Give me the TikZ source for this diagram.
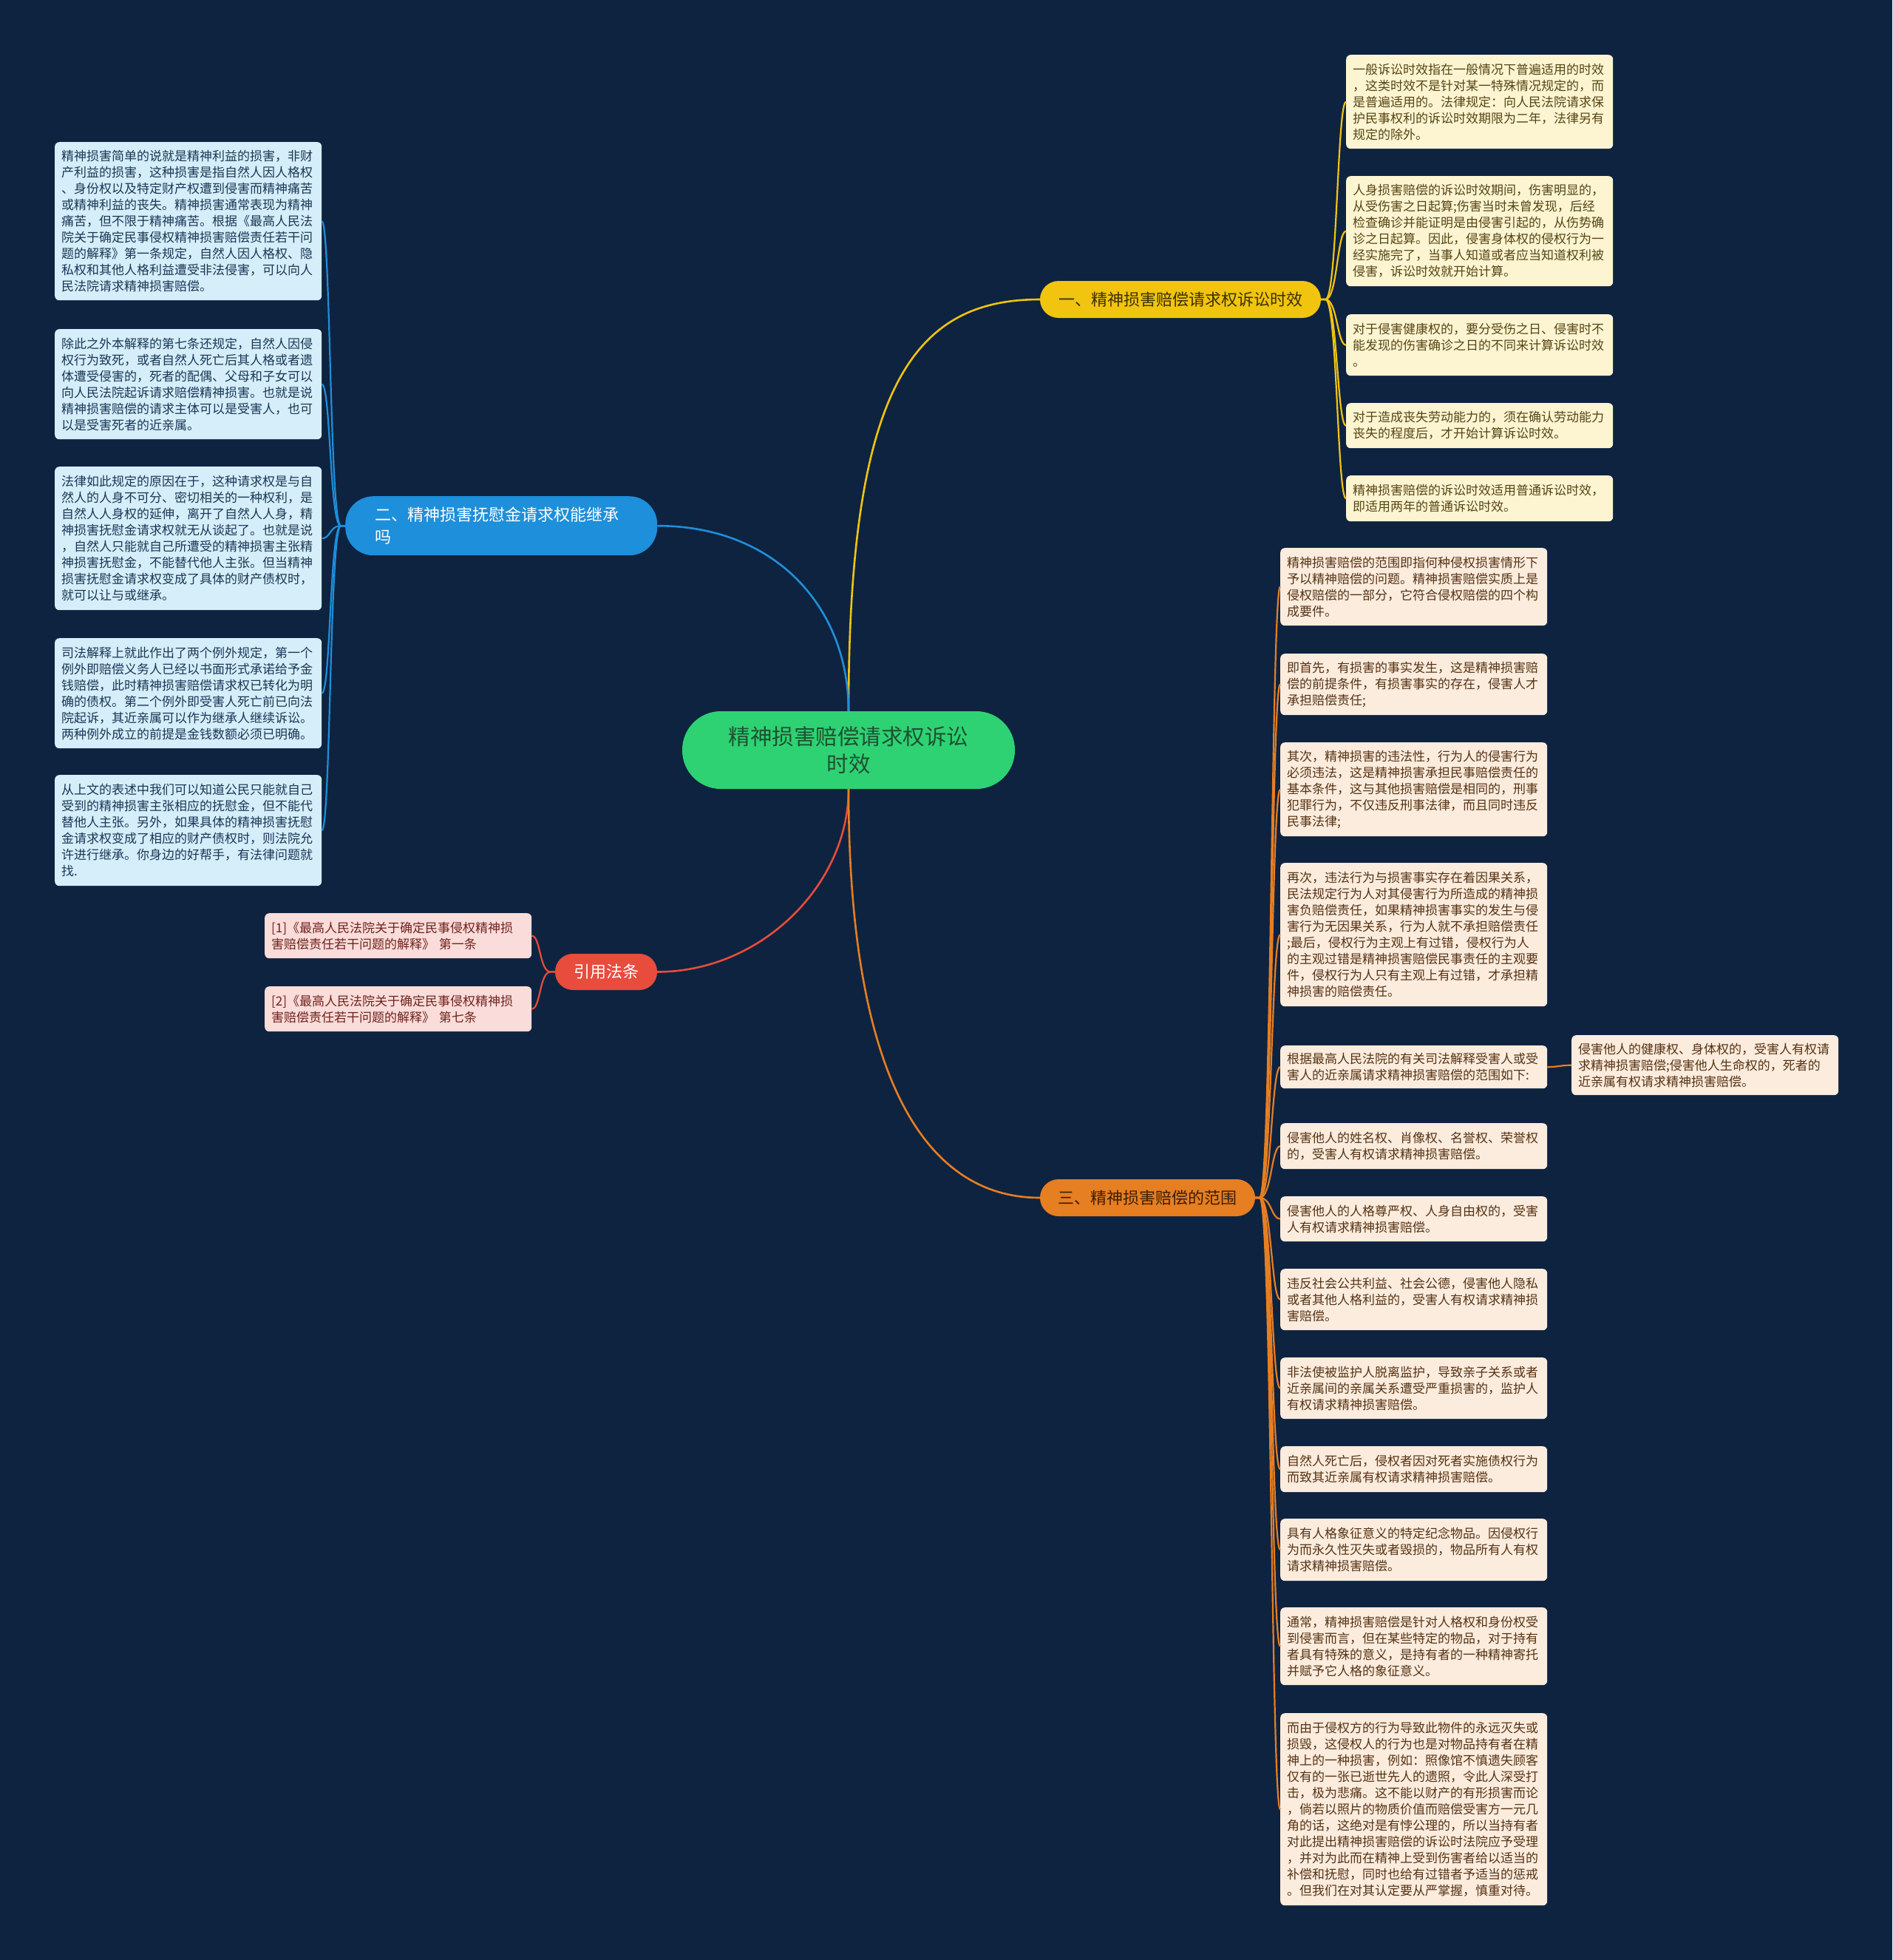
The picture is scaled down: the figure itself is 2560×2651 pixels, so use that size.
\documentclass[tikz,border=0pt]{standalone}
\usepackage{fontspec}
\setmainfont{Noto Sans CJK SC}
\usetikzlibrary{calc}
\definecolor{bgc}{RGB}{14,35,64}
\definecolor{cgreen}{RGB}{46,210,115}
\definecolor{cgreentx}{RGB}{30,80,50}
\definecolor{cyel}{RGB}{241,196,15}
\definecolor{cyeltx}{RGB}{60,48,5}
\definecolor{cblue}{RGB}{30,143,218}
\definecolor{cred}{RGB}{231,76,60}
\definecolor{corg}{RGB}{230,126,34}
\definecolor{corgtx}{RGB}{60,30,5}
\definecolor{ylf}{RGB}{253,245,210}
\definecolor{ylt}{RGB}{85,68,20}
\definecolor{olf}{RGB}{252,236,221}
\definecolor{olt}{RGB}{85,50,20}
\definecolor{blf}{RGB}{214,238,250}
\definecolor{blt}{RGB}{25,55,85}
\definecolor{rlf}{RGB}{250,220,218}
\definecolor{rlt}{RGB}{110,35,28}
\newcommand\lfsz{\fontsize{17pt}{22pt}\selectfont}
\newcommand\brsz{\fontsize{22pt}{30pt}\selectfont}
\begin{document}
\begin{tikzpicture}[x=1pt,y=-1pt,
  leafbase/.style={anchor=north west, rounded corners=6pt, inner xsep=9pt, inner ysep=0pt, text width=343pt, align=left, font=\lfsz},
  leafY/.style={leafbase, fill=ylf, text=ylt},
  leafO/.style={leafbase, fill=olf, text=olt},
  leafB/.style={leafbase, fill=blf, text=blt},
  leafR/.style={leafbase, fill=rlf, text=rlt},
  branch/.style={inner sep=0pt, font=\brsz, align=center},
  mainline/.style={line width=2.6pt},
  subline/.style={line width=2.2pt},
]
\fill[bgc] (0,0) rectangle (2560,2651);
\useasboundingbox (0,0) rectangle (2560,2651);

% central node
\node[fill=cgreen, text=cgreentx, minimum width=450pt, minimum height=105pt, rounded corners=52pt, inner sep=0pt, align=center, font=\fontsize{29.5pt}{37pt}\selectfont] (c) at (1148,1014.5) {精神损害赔偿请求权诉讼\\时效};

% branches
\node[branch, fill=cyel, text=cyeltx, minimum width=380pt, minimum height=50pt, rounded corners=25pt] (y) at (1597,405) {一、精神损害赔偿请求权诉讼时效};
\node[branch, anchor=north west, fill=cblue, text=white, minimum width=422pt, minimum height=80pt, rounded corners=38pt, inner xsep=40pt, text width=342pt, align=left] (b) at (467,671) {二、精神损害抚慰金请求权能继承\\吗};
\node[branch, fill=cred, text=white, minimum width=138pt, minimum height=49pt, rounded corners=24pt] (r) at (820,1314.5) {引用法条};
\node[branch, fill=corg, text=corgtx, minimum width=291pt, minimum height=50pt, rounded corners=25pt] (o) at (1552.5,1620) {三、精神损害赔偿的范围};

% main connectors
\draw[mainline, cyel] (c.north) .. controls +(0,-440) and +(-170,0) .. (y.west);
\draw[mainline, cblue] (c.north) .. controls +(0,-140) and +(160,0) .. (b.east);
\draw[mainline, cred] (c.south) .. controls +(0,130) and +(140,0) .. (r.east);
\draw[mainline, corg] (c.south) .. controls +(0,380) and +(-160,0) .. (o.west);

% yellow leaves
\node[leafY, minimum height=127pt] (y1) at (1821,74) {一般诉讼时效指在一般情况下普遍适用的时效\\，这类时效不是针对某一特殊情况规定的，而\\是普遍适用的。法律规定：向人民法院请求保\\护民事权利的诉讼时效期限为二年，法律另有\\规定的除外。};
\node[leafY, minimum height=149pt] (y2) at (1821,238) {人身损害赔偿的诉讼时效期间，伤害明显的，\\从受伤害之日起算;伤害当时未曾发现，后经\\检查确诊并能证明是由侵害引起的，从伤势确\\诊之日起算。因此，侵害身体权的侵权行为一\\经实施完了，当事人知道或者应当知道权利被\\侵害，诉讼时效就开始计算。};
\node[leafY, minimum height=83pt] (y3) at (1821,425) {对于侵害健康权的，要分受伤之日、侵害时不\\能发现的伤害确诊之日的不同来计算诉讼时效\\。};
\node[leafY, minimum height=61pt] (y4) at (1821,545) {对于造成丧失劳动能力的，须在确认劳动能力\\丧失的程度后，才开始计算诉讼时效。};
\node[leafY, minimum height=62pt] (y5) at (1821,643) {精神损害赔偿的诉讼时效适用普通诉讼时效，\\即适用两年的普通诉讼时效。};
\foreach \n in {y1,y2,y3,y4,y5}
  \draw[subline, cyel] (y.east) -- ++(6,0) .. controls +(16,0) and +(-12,0) .. (\n.west);

% blue leaves
\node[leafB, minimum height=214pt] (b1) at (74,192) {精神损害简单的说就是精神利益的损害，非财\\产利益的损害，这种损害是指自然人因人格权\\、身份权以及特定财产权遭到侵害而精神痛苦\\或精神利益的丧失。精神损害通常表现为精神\\痛苦，但不限于精神痛苦。根据《最高人民法\\院关于确定民事侵权精神损害赔偿责任若干问\\题的解释》第一条规定，自然人因人格权、隐\\私权和其他人格利益遭受非法侵害，可以向人\\民法院请求精神损害赔偿。};
\node[leafB, minimum height=149pt] (b2) at (74,445) {除此之外本解释的第七条还规定，自然人因侵\\权行为致死，或者自然人死亡后其人格或者遗\\体遭受侵害的，死者的配偶、父母和子女可以\\向人民法院起诉请求赔偿精神损害。也就是说\\精神损害赔偿的请求主体可以是受害人，也可\\以是受害死者的近亲属。};
\node[leafB, minimum height=194pt] (b3) at (74,631) {法律如此规定的原因在于，这种请求权是与自\\然人的人身不可分、密切相关的一种权利，是\\自然人人身权的延伸，离开了自然人人身，精\\神损害抚慰金请求权就无从谈起了。也就是说\\，自然人只能就自己所遭受的精神损害主张精\\神损害抚慰金，不能替代他人主张。但当精神\\损害抚慰金请求权变成了具体的财产债权时，\\就可以让与或继承。};
\node[leafB, minimum height=149pt] (b4) at (74,863) {司法解释上就此作出了两个例外规定，第一个\\例外即赔偿义务人已经以书面形式承诺给予金\\钱赔偿，此时精神损害赔偿请求权已转化为明\\确的债权。第二个例外即受害人死亡前已向法\\院起诉，其近亲属可以作为继承人继续诉讼。\\两种例外成立的前提是金钱数额必须已明确。};
\node[leafB, minimum height=150pt] (b5) at (74,1048) {从上文的表述中我们可以知道公民只能就自己\\受到的精神损害主张相应的抚慰金，但不能代\\替他人主张。另外，如果具体的精神损害抚慰\\金请求权变成了相应的财产债权时，则法院允\\许进行继承。你身边的好帮手，有法律问题就\\找.};
\foreach \n in {b1,b2,b3,b4,b5}
  \draw[subline, cblue] (b.west) -- ++(-6,0) .. controls +(-15,0) and +(12,0) .. (\n.east);

% red leaves
\node[leafR, minimum height=61pt] (r1) at (358,1235) {[1]《最高人民法院关于确定民事侵权精神损\\害赔偿责任若干问题的解释》 第一条};
\node[leafR, minimum height=61pt] (r2) at (358,1334) {[2]《最高人民法院关于确定民事侵权精神损\\害赔偿责任若干问题的解释》 第七条};
\foreach \n in {r1,r2}
  \draw[subline, cred] (r.west) -- ++(-6,0) .. controls +(-15,0) and +(12,0) .. (\n.east);

% orange leaves
\node[leafO, minimum height=105pt] (o1) at (1732,741) {精神损害赔偿的范围即指何种侵权损害情形下\\予以精神赔偿的问题。精神损害赔偿实质上是\\侵权赔偿的一部分，它符合侵权赔偿的四个构\\成要件。};
\node[leafO, minimum height=83pt] (o2) at (1732,884) {即首先，有损害的事实发生，这是精神损害赔\\偿的前提条件，有损害事实的存在，侵害人才\\承担赔偿责任;};
\node[leafO, minimum height=127pt] (o3) at (1732,1004) {其次，精神损害的违法性，行为人的侵害行为\\必须违法，这是精神损害承担民事赔偿责任的\\基本条件，这与其他损害赔偿是相同的，刑事\\犯罪行为，不仅违反刑事法律，而且同时违反\\民事法律;};
\node[leafO, minimum height=194pt] (o4) at (1732,1167) {再次，违法行为与损害事实存在着因果关系，\\民法规定行为人对其侵害行为所造成的精神损\\害负赔偿责任，如果精神损害事实的发生与侵\\害行为无因果关系，行为人就不承担赔偿责任\\;最后，侵权行为主观上有过错，侵权行为人\\的主观过错是精神损害赔偿民事责任的主观要\\件，侵权行为人只有主观上有过错，才承担精\\神损害的赔偿责任。};
\node[leafO, minimum height=58pt] (o5) at (1732,1414) {根据最高人民法院的有关司法解释受害人或受\\害人的近亲属请求精神损害赔偿的范围如下:};
\node[leafO, minimum height=81pt] (o5c) at (2126,1400) {侵害他人的健康权、身体权的，受害人有权请\\求精神损害赔偿;侵害他人生命权的，死者的\\近亲属有权请求精神损害赔偿。};
\node[leafO, minimum height=62pt] (o6) at (1732,1519) {侵害他人的姓名权、肖像权、名誉权、荣誉权\\的，受害人有权请求精神损害赔偿。};
\node[leafO, minimum height=61pt] (o7) at (1732,1618) {侵害他人的人格尊严权、人身自由权的，受害\\人有权请求精神损害赔偿。};
\node[leafO, minimum height=83pt] (o8) at (1732,1716) {违反社会公共利益、社会公德，侵害他人隐私\\或者其他人格利益的，受害人有权请求精神损\\害赔偿。};
\node[leafO, minimum height=83pt] (o9) at (1732,1836) {非法使被监护人脱离监护，导致亲子关系或者\\近亲属间的亲属关系遭受严重损害的，监护人\\有权请求精神损害赔偿。};
\node[leafO, minimum height=62pt] (o10) at (1732,1956) {自然人死亡后，侵权者因对死者实施债权行为\\而致其近亲属有权请求精神损害赔偿。};
\node[leafO, minimum height=84pt] (o11) at (1732,2054) {具有人格象征意义的特定纪念物品。因侵权行\\为而永久性灭失或者毁损的，物品所有人有权\\请求精神损害赔偿。};
\node[leafO, minimum height=105pt] (o12) at (1732,2174) {通常，精神损害赔偿是针对人格权和身份权受\\到侵害而言，但在某些特定的物品，对于持有\\者具有特殊的意义，是持有者的一种精神寄托\\并赋予它人格的象征意义。};
\node[leafO, minimum height=260pt] (o13) at (1732,2317) {而由于侵权方的行为导致此物件的永远灭失或\\损毁，这侵权人的行为也是对物品持有者在精\\神上的一种损害，例如：照像馆不慎遗失顾客\\仅有的一张已逝世先人的遗照，令此人深受打\\击，极为悲痛。这不能以财产的有形损害而论\\，倘若以照片的物质价值而赔偿受害方一元几\\角的话，这绝对是有悖公理的，所以当持有者\\对此提出精神损害赔偿的诉讼时法院应予受理\\，并对为此而在精神上受到伤害者给以适当的\\补偿和抚慰，同时也给有过错者予适当的惩戒\\。但我们在对其认定要从严掌握，慎重对待。};
\foreach \n in {o1,o2,o3,o4,o5,o6,o7,o8,o9,o10,o11,o12,o13}
  \draw[subline, corg] (o.east) -- ++(6,0) .. controls +(16,0) and +(-12,0) .. (\n.west);
\draw[subline, corg] (o5.east) .. controls +(14,0) and +(-14,0) .. (o5c.west);
\end{tikzpicture}
\end{document}
